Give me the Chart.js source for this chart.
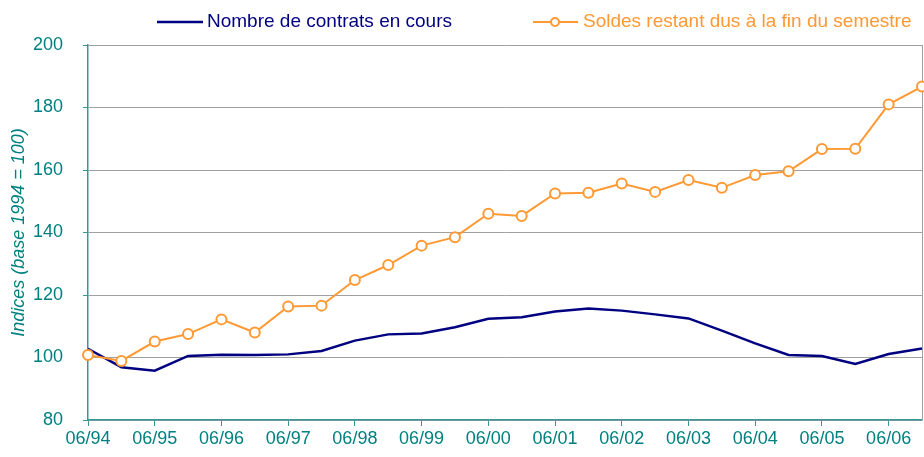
<!DOCTYPE html>
<html>
<head>
<meta charset="utf-8">
<script src="https://cdn.jsdelivr.net/npm/chart.js@4.4.1/dist/chart.umd.min.js"></script>
<style>
  html, body { margin: 0; padding: 0; background: #fff; }
  #wrap { width: 924px; height: 457px; }
</style>
</head>
<body>
<div id="wrap"><canvas id="chart" width="924" height="457"></canvas></div>
<script>
// semestres 06/94 -> 12/06
const labels = [
  "06/94", "12/94", "06/95", "12/95", "06/96", "12/96", "06/97", "12/97",
  "06/98", "12/98", "06/99", "12/99", "06/00", "12/00", "06/01", "12/01",
  "06/02", "12/02", "06/03", "12/03", "06/04", "12/04", "06/05", "12/05",
  "06/06", "12/06"
];

const contrats = [
  102.8, 96.9, 95.8, 100.5, 100.9, 100.8, 101.0, 102.1,
  105.4, 107.4, 107.7, 109.7, 112.4, 112.9, 114.7, 115.7,
  115.0, 113.8, 112.5, 108.6, 104.5, 100.8, 100.5, 97.9,
  101.1, 102.9
];

const soldes = [
  100.8, 98.9, 105.1, 107.5, 112.2, 108.0, 116.3, 116.6,
  124.8, 129.6, 135.8, 138.5, 146.0, 145.3, 152.5, 152.7,
  155.7, 153.0, 156.8, 154.3, 158.4, 159.6, 166.7, 166.8,
  181.0, 186.7
];

const yTicks = [80, 100, 120, 140, 160, 180, 200];

const TEAL = "#008080";
const AXIS = "#3a9595";
const NAVY = "#000080";
const ORANGE = "#ff9933";
const FONT = "'Liberation Sans', Arial, sans-serif";

// légende dessinée à la main (ligne + marqueur comme l'original)
const legendPlugin = {
  id: "customLegend",
  afterDraw(chart) {
    const c = chart.ctx;
    const y = 22;
    c.save();
    c.font = "19px " + FONT;
    c.textBaseline = "middle";

    c.strokeStyle = NAVY;
    c.lineWidth = 2.5;
    c.beginPath();
    c.moveTo(157, y);
    c.lineTo(203, y);
    c.stroke();
    c.fillStyle = NAVY;
    c.fillText(chart.data.datasets[0].label, 207, y);

    c.strokeStyle = ORANGE;
    c.lineWidth = 2;
    c.beginPath();
    c.moveTo(533, y);
    c.lineTo(578, y);
    c.stroke();
    c.beginPath();
    c.arc(555, y, 4, 0, Math.PI * 2);
    c.fillStyle = "#fff";
    c.fill();
    c.stroke();
    c.fillStyle = ORANGE;
    c.fillText(chart.data.datasets[1].label, 583, y);
    c.restore();
  }
};

// bordure droite grise de la zone de tracé
const borderPlugin = {
  id: "rightBorder",
  beforeDatasetsDraw(chart) {
    const a = chart.chartArea;
    const c = chart.ctx;
    c.save();
    c.strokeStyle = "#a0a0a0";
    c.lineWidth = 1;
    c.beginPath();
    c.moveTo(a.right + 0.5, a.top);
    c.lineTo(a.right + 0.5, a.bottom);
    c.stroke();
    c.restore();
  }
};

new Chart(document.getElementById("chart"), {
  type: "line",
  data: {
    labels: labels,
    datasets: [
      {
        label: "Nombre de contrats en cours",
        data: contrats,
        borderColor: NAVY,
        backgroundColor: NAVY,
        borderWidth: 2.5,
        pointRadius: 0,
        tension: 0,
        clip: false,
        order: 1,
      },
      {
        label: "Soldes restant dus à la fin du semestre",
        data: soldes,
        borderColor: ORANGE,
        backgroundColor: "#fff",
        borderWidth: 2,
        pointRadius: 5,
        pointBorderWidth: 2,
        pointBackgroundColor: "#fff",
        pointBorderColor: ORANGE,
        tension: 0,
        clip: false,
        order: 0,
      },
    ],
  },
  options: {
    responsive: false,
    animation: false,
    layout: { autoPadding: false, padding: { top: 45, right: 2, left: 0, bottom: 0 } },
    plugins: {
      legend: { display: false },
      tooltip: { enabled: false },
    },
    scales: {
      x: {
        offset: false,
        afterFit: (scale) => {
          scale.height = 37;
          scale.paddingLeft = 0;
          scale.paddingRight = 0;
        },
        border: { color: AXIS, width: 1.5 },
        grid: {
          drawOnChartArea: false,
          drawTicks: true,
          tickLength: 6,
          tickColor: (ctx) => (ctx.index % 2 === 0 ? AXIS : "rgba(0,0,0,0)"),
        },
        ticks: {
          autoSkip: false,
          maxRotation: 0,
          padding: 2,
          color: TEAL,
          font: { family: FONT, size: 18 },
          callback: (val, i) => (i % 2 === 0 ? labels[i] : ""),
        },
      },
      y: {
        min: 80,
        max: 200,
        afterFit: (scale) => { scale.width = 88; },
        afterBuildTicks: (scale) => { scale.ticks = yTicks.map((v) => ({ value: v })); },
        border: { color: AXIS, width: 1.5 },
        grid: {
          color: "#a0a0a0",
          lineWidth: 1,
          tickLength: 5,
          tickColor: AXIS,
        },
        ticks: {
          padding: 20,
          color: TEAL,
          font: { family: FONT, size: 18 },
        },
        title: {
          display: true,
          text: "Indices (base 1994 = 100)",
          color: TEAL,
          padding: { top: 8, bottom: 0 },
          font: { family: FONT, size: 18, style: "italic" },
        },
      },
    },
  },
  plugins: [legendPlugin, borderPlugin],
});
</script>
</body>
</html>
